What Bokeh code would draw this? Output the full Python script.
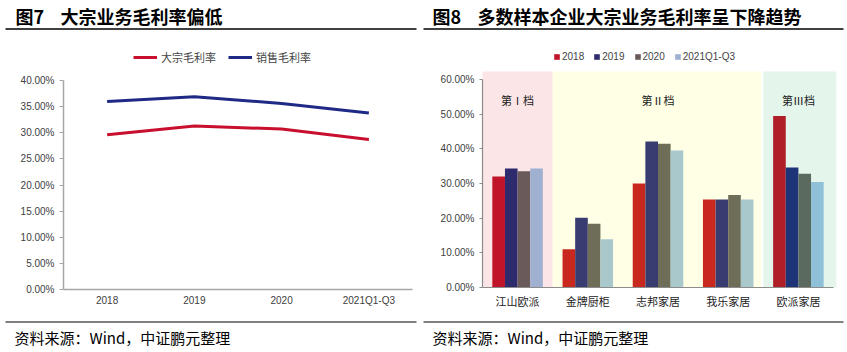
from bokeh.plotting import figure
from bokeh.layouts import row
from bokeh.models import (Range1d, Legend, LegendItem, NumeralTickFormatter, LinearAxis,
                          SingleIntervalTicker, FixedTicker, BoxAnnotation, ColumnDataSource)
from bokeh.transform import dodge
from bokeh.core.properties import value
from bokeh.embed import file_html
from bokeh.resources import INLINE

# ---------------- data ----------------
periods = ["2018", "2019", "2020", "2021Q1-Q3"]
bulk_margin = [0.296, 0.313, 0.307, 0.287]      # 大宗毛利率
sales_margin = [0.360, 0.369, 0.356, 0.338]     # 销售毛利率

companies = ["江山欧派", "金牌厨柜", "志邦家居", "我乐家居", "欧派家居"]
series_names = ["2018", "2019", "2020", "2021Q1-Q3"]
v2018 = [0.320, 0.110, 0.300, 0.254, 0.495]
v2019 = [0.343, 0.201, 0.421, 0.254, 0.346]
v2020 = [0.335, 0.184, 0.415, 0.267, 0.328]
v2021 = [0.343, 0.139, 0.395, 0.254, 0.304]
tiers = ["第Ⅰ档", "第Ⅱ档", "第Ⅲ档"]
tier_anchor = ["江山欧派", "志邦家居", "欧派家居"]
source_note = "资料来源：Wind，中证鹏元整理"

# styles
c2018 = ["#C0142A", "#C8281E", "#C8281E", "#C8281E", "#B01E28"]
c2019 = ["#2E2A6E", "#383C70", "#383C70", "#383C70", "#1E3478"]
c2020 = ["#6B5A5A", "#6E6E58", "#6E6E58", "#6E6E58", "#5A6A5E"]
c2021 = ["#A0B0D0", "#A8C8CC", "#A8C8CC", "#A8C8CC", "#8EC0D8"]

CJK = "Noto Sans CJK SC"
TICKF = "Liberation Sans, Noto Sans CJK SC"
H = 352


class Mapper:
    """page-pixel -> data coordinate helper for one panel (frame = whole panel)."""
    def __init__(self, W, ax_left, ax_right, ncat, y_bottom_px, y_top_px, ymax):
        self.u = (ax_right - ax_left) / ncat
        self.x0 = -ax_left / self.u
        self.x1 = (W - ax_left) / self.u
        self.k = ymax / (y_bottom_px - y_top_px)
        self.y1 = ymax + y_top_px * self.k
        self.y0 = -(H - y_bottom_px) * self.k

    def px(self, x):
        return self.x0 + x / self.u

    def py(self, y):
        return self.y1 - y * self.k


def make_fig(W, m):
    p = figure(width=W, height=H, x_range=Range1d(m.x0, m.x1), y_range=Range1d(m.y0, m.y1),
               toolbar_location=None, output_backend="svg", min_border=0,
               x_axis_location=None, y_axis_location=None)
    p.grid.visible = False
    p.outline_line_color = None
    return p


def decorate(p, m, num, title, tx, line_l, line_r, sx):
    p.text(x=[m.px(tx)], y=[m.py(15)], text=[num], text_font=value(CJK), text_font_style="bold",
           text_font_size="18px", text_baseline="middle", text_color="#000000")
    p.text(x=[m.px(tx + 45)], y=[m.py(15)], text=[title], text_font=value(CJK),
           text_font_style="bold", text_font_size="18px", text_baseline="middle",
           text_color="#000000")
    p.line(x=[m.px(line_l), m.px(line_r)], y=[m.py(28.5)] * 2, line_color="#000000", line_width=1.5)
    p.line(x=[m.px(line_l), m.px(line_r)], y=[m.py(321.5)] * 2, line_color="#000000", line_width=1.2)
    p.text(x=[m.px(sx)], y=[m.py(337)], text=[source_note], text_font=value(CJK),
           text_font_size="15px", text_baseline="middle", text_color="#000000")


def style_axes(xa, ya, color, lw):
    for ax in (xa, ya):
        ax.axis_line_color = color
        ax.axis_line_width = lw
        ax.major_label_text_font = TICKF
        ax.major_label_text_font_size = "10px"
        ax.major_label_text_color = "#404040"
        ax.minor_tick_line_color = None
        ax.minor_tick_out = 0
        ax.minor_tick_in = 0
    ya.major_tick_line_color = color
    ya.major_tick_out = 4
    ya.major_tick_in = 0
    xa.major_tick_line_color = None
    xa.major_tick_out = 0
    xa.major_tick_in = 0


# ---------------- chart 7 ----------------
m1 = Mapper(423, 63, 412, len(periods), 289, 80, 0.40)
p1 = make_fig(423, m1)
xs1 = [i + 0.5 for i in range(len(periods))]
r_bulk = p1.line(x=xs1, y=bulk_margin, line_color="#C8102E", line_width=3)
r_sales = p1.line(x=xs1, y=sales_margin, line_color="#1F2A86", line_width=3)
ya1 = LinearAxis(fixed_location=0, bounds=(0, 0.4001), ticker=SingleIntervalTicker(interval=0.05),
                 formatter=NumeralTickFormatter(format="0.00%"))
xa1 = LinearAxis(fixed_location=0, bounds=(0, len(periods)), ticker=FixedTicker(ticks=xs1),
                 major_label_overrides={x: s for x, s in zip(xs1, periods)})
style_axes(xa1, ya1, "#A6A6A6", 1.5)
xa1.major_label_standoff = 5
p1.add_layout(ya1, "left")
p1.add_layout(xa1, "below")
leg1 = Legend(items=[LegendItem(label="大宗毛利率", renderers=[r_bulk]),
                     LegendItem(label="销售毛利率", renderers=[r_sales])],
              location=(133, 287), orientation="horizontal", background_fill_alpha=0,
              border_line_color=None, label_text_font=CJK, label_text_font_size="11px",
              glyph_width=24, glyph_height=12, spacing=12, padding=0, margin=0,
              label_standoff=4)
p1.add_layout(leg1)
decorate(p1, m1, "图7", "大宗业务毛利率偏低", 15, 5, 416, 14)

# ---------------- chart 8 ----------------
m2 = Mapper(424, 59, 410, len(companies), 287, 79, 0.60)
p2 = make_fig(424, m2)
xs2 = [i + 0.5 for i in range(len(companies))]
src = ColumnDataSource(dict(xi=xs2, v2018=v2018, v2019=v2019, v2020=v2020, v2021=v2021,
                            c2018=c2018, c2019=c2019, c2020=c2020, c2021=c2021))
band_top = m2.py(71)
p2.add_layout(BoxAnnotation(left=0, right=1, bottom=0, top=band_top, fill_color="#FBE5E7",
                            fill_alpha=1, line_color=None, level="underlay"))
p2.add_layout(BoxAnnotation(left=1, right=3.97, bottom=0, top=band_top, fill_color="#FFFFE6",
                            fill_alpha=1, line_color=None, level="underlay"))
p2.add_layout(BoxAnnotation(left=4, right=5.04, bottom=0, top=band_top, fill_color="#E4F5EB",
                            fill_alpha=1, line_color=None, level="underlay"))

offs = [-0.27, -0.09, 0.09, 0.27]
keys = ["2018", "2019", "2020", "2021"]
rends = []
for off, k in zip(offs, keys):
    r = p2.vbar(x=dodge("xi", off), top="v" + k, width=0.18, source=src,
                fill_color="c" + k, line_color=None)
    rends.append(r)
p2.text(x=[companies.index(c) + 0.5 for c in tier_anchor], y=[0.54] * 3, text=tiers,
        text_font=value(CJK), text_font_size="11px", text_align="center",
        text_baseline="middle", text_color="#222222")
ya2 = LinearAxis(fixed_location=0, bounds=(0, 0.6001), ticker=SingleIntervalTicker(interval=0.10),
                 formatter=NumeralTickFormatter(format="0.00%"))
xa2 = LinearAxis(fixed_location=0, bounds=(0, len(companies)), ticker=FixedTicker(ticks=xs2),
                 major_label_overrides={x: s for x, s in zip(xs2, companies)})
style_axes(xa2, ya2, "#8C8C8C", 1.2)
xa2.major_label_text_font = CJK
xa2.major_label_text_font_size = "11px"
xa2.major_label_text_color = "#222222"
xa2.major_label_standoff = 5
ya2.major_tick_out = 3
p2.add_layout(ya2, "left")
p2.add_layout(xa2, "below")
leg2 = Legend(items=[LegendItem(label=n, renderers=[r], index=0) for n, r in zip(series_names, rends)],
              location=(130, 290), orientation="horizontal", background_fill_alpha=0,
              border_line_color=None, label_text_font=TICKF, label_text_font_size="10px",
              glyph_width=7, glyph_height=7, spacing=9, padding=0, margin=0, label_standoff=2)
p2.add_layout(leg2)
decorate(p2, m2, "图8", "多数样本企业大宗业务毛利率呈下降趋势", 9, -1, 420, 9)

page = row(p1, p2, spacing=0)
open("out.html", "w").write(file_html(page, INLINE))
